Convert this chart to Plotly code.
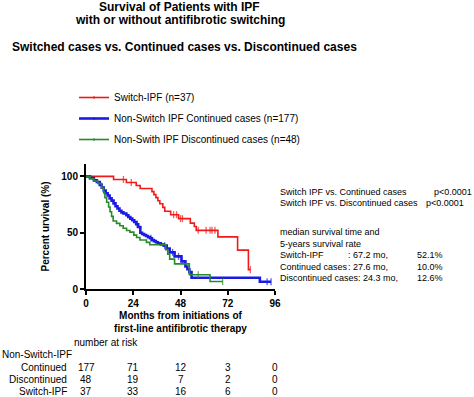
import plotly.graph_objects as go

# ---------------- data ----------------
series_names = ["Switch-IPF (n=37)",
                "Non-Switch IPF Continued cases (n=177)",
                "Non-Swith IPF Discontinued cases (n=48)"]

# Switch-IPF: Kaplan-Meier steps (months, % survival)
switch_t = [0, 14, 20.5, 25.5, 27.5, 33.5, 34.5, 35.5, 36.5, 37.5, 39, 40, 43, 47, 53, 55, 56, 67, 77, 82.5, 83.5]
switch_s = [100, 97.3, 94.6, 91.9, 89.2, 86.5, 83.8, 81.1, 78.4, 75.7, 72.5, 69, 66, 62.5, 58.5, 55.5, 52.1, 46.3, 34.5, 17.2, 17.2]
switch_cens = [19, 23, 44.5, 46, 48, 49, 57, 61, 63, 64, 65.5, 83.5]

# Non-switch continued
cont_t = [0, 2, 4, 5.5, 7, 8, 9, 10, 11, 12, 13, 14, 15, 16, 17, 18, 19, 20.5, 21.5, 22.5, 23.5,
          24.5, 25.5, 26.5, 27.6, 28.5, 29.5, 30.5, 31.5, 32.5, 33.5, 34.5, 35.5, 36.5, 38, 39.5,
          41, 42.5, 45, 48.5, 50.5, 51.5, 52.5, 53.6, 88.3, 94]
cont_s = [100, 98.5, 96.5, 95, 92.5, 90, 87.5, 85, 83, 80.5, 78.5, 76, 73.5, 71.5, 69.5, 68, 67, 65.5, 64, 62.5, 61,
          59.5, 57.5, 55, 50, 48.8, 48, 47, 46, 45, 43.5, 42.5, 41.5, 40.5, 39.5, 38.5,
          36, 32.5, 29, 24.5, 20, 17.5, 15, 10, 6.5, 6.5]
cont_cens = [26, 33, 40, 44, 47, 92, 94]

# Non-switch discontinued
disc_t = [0, 2, 4, 6, 8, 9, 9.6, 10.5, 11.5, 12.2, 13, 13.8, 15.5, 17.2, 18.9, 20.6, 22.3, 24.3,
          25.7, 27.4, 30.7, 32.4, 40.5, 41.5, 42.5, 45, 52.5, 63, 69.4]
disc_s = [100, 97.9, 95.8, 93.7, 89.5, 85.3, 81.1, 77, 72.8, 68.6, 64.5, 60.4, 58.3, 56.2, 54, 52, 50.5, 47.8,
          45.7, 43.5, 41.4, 39.3, 35, 30.8, 26.5, 22.3, 12.6, 6.6, 6.6]
disc_cens = [57, 69.4]

x_ticks = [0, 24, 48, 72, 96]
y_ticks = [0, 50, 100]

risk_rows = ["Continued", "Discontinued", "Switch-IPF"]
risk_continued = [177, 71, 12, 3, 0]
risk_discontinued = [48, 19, 7, 2, 0]
risk_switch = [37, 33, 16, 6, 0]

p_lines = [("Switch IPF vs. Continued cases", "p<0.0001"),
           ("Switch IPF vs. Discontinued cases", "p<0.0001")]
median_labels = ["Switch-IPF", "Continued cases", "Discontinued cases"]
median_mo = ["67.2 mo,", "27.6 mo,", "24.3 mo,"]
five_year = ["52.1%", "10.0%", "12.6%"]

# ---------------- styling / helpers ----------------
FONT = "Liberation Sans, Arial, sans-serif"
colors = ["#f01a1a", "#1a1ae6", "#2a8a2a"]
widths = [1.6, 2.6, 1.6]

W, H = 474, 397
L, R, T, B = 86, 474 - 275.5, 164, 397 - 289
PW, PH = W - L - R, H - T - B


def px(x):
    return (x - L) / PW


def py(y):
    return (H - B - y) / PH


def surv_at(ts, ss, t):
    val = ss[0]
    for ti, si in zip(ts, ss):
        if ti <= t:
            val = si
    return val


fig = go.Figure()
for name, ts, ss, cens, col, w in [
    (series_names[0], switch_t, switch_s, switch_cens, colors[0], widths[0]),
    (series_names[1], cont_t, cont_s, cont_cens, colors[1], widths[1]),
    (series_names[2], disc_t, disc_s, disc_cens, colors[2], widths[2]),
]:
    pts = [(t, s, 0) for t, s in zip(ts, ss)] + [(c, surv_at(ts, ss, c), 5) for c in cens]
    pts.sort(key=lambda p: (p[0], -p[1]))
    fig.add_trace(go.Scatter(
        x=[p[0] for p in pts], y=[p[1] for p in pts],
        mode="lines+markers", name=name, legendgroup=name,
        line=dict(color=col, width=w, shape="hv"),
        marker=dict(symbol="line-ns", size=[p[2] for p in pts],
                    color=col, line=dict(color=col, width=1.3)),
    ))

ann = []


def text(x, y, s, size=9, anchor="left", bold=False, xref="paper"):
    ann.append(dict(x=x, y=py(y), xref=xref, yref="paper", text=s, showarrow=False,
                    xanchor=anchor, yanchor="middle",
                    font=dict(family=FONT, size=size, color="black",
                              weight="bold" if bold else "normal")))


# titles
text(px(180), 7, "Survival of Patients with IPF", 12, "center", True)
text(px(180), 20, "with or without antifibrotic switching", 12, "center", True)
text(px(10), 47, "Switched cases vs. Continued cases vs. Discontinued cases", 12, "left", True)

# right-hand statistics
text(px(279), 192, p_lines[0][0], 9)
text(px(433), 192, p_lines[0][1], 9)
text(px(279), 202.5, p_lines[1][0], 9)
text(px(425), 202.5, p_lines[1][1], 9)
text(px(279), 232, "median survival time and", 9)
text(px(279), 243.5, "5-years survival rate", 9)
for i, (lab, mo, pct) in enumerate(zip(median_labels, median_mo, five_year)):
    yy = 255 + i * 11.5
    if i < 2:
        text(px(279), yy, lab, 9)
        text(px(347), yy, ": " + mo, 9)
    else:
        text(px(279), yy, lab + ": " + mo, 9)
    text(px(416), yy, pct, 9)

# number at risk table
text(px(71.5), 342, "number at risk", 10)
text(px(0), 354.5, "Non-Switch-IPF", 10)
for i, (lab, vals) in enumerate(zip(risk_rows, [risk_continued, risk_discontinued, risk_switch])):
    yy = 367 + i * 12
    text(px(69), yy, lab, 10, "right")
    for xv, v in zip(x_ticks, vals):
        text(xv, yy, str(v), 10, "center", xref="x")

fig.update_layout(
    width=W, height=H,
    margin=dict(l=L, r=R, t=T, b=B, pad=0),
    paper_bgcolor="white", plot_bgcolor="white",
    font=dict(family=FONT, color="black"),
    showlegend=True,
    legend=dict(x=px(74), y=py(83), xanchor="left", yanchor="top",
                traceorder="grouped", tracegroupgap=2, itemwidth=30,
                bgcolor="rgba(0,0,0,0)",
                font=dict(family=FONT, size=10, color="black")),
    annotations=ann,
    xaxis=dict(range=[0, 96], tickvals=x_ticks, showgrid=False, zeroline=False,
               showline=True, linecolor="black", linewidth=2,
               ticks="outside", ticklen=4, tickwidth=2, tickcolor="black",
               tickfont=dict(family=FONT, size=10, weight="bold"),
               title=dict(text="Months from initiations of<br>first-line antifibrotic therapy",
                          font=dict(family=FONT, size=10, weight="bold"), standoff=4)),
    yaxis=dict(range=[0, 111], tickvals=y_ticks, showgrid=False, zeroline=False,
               showline=True, linecolor="black", linewidth=2,
               ticks="outside", ticklen=4, tickwidth=2, tickcolor="black",
               tickfont=dict(family=FONT, size=10, weight="bold"),
               title=dict(text="Percent urvival (%)",
                          font=dict(family=FONT, size=10, weight="bold"), standoff=10)),
)

fig.write_html("out.html", config={"displayModeBar": False},
               post_script="document.body.style.margin='0';document.body.style.overflow='hidden';")
